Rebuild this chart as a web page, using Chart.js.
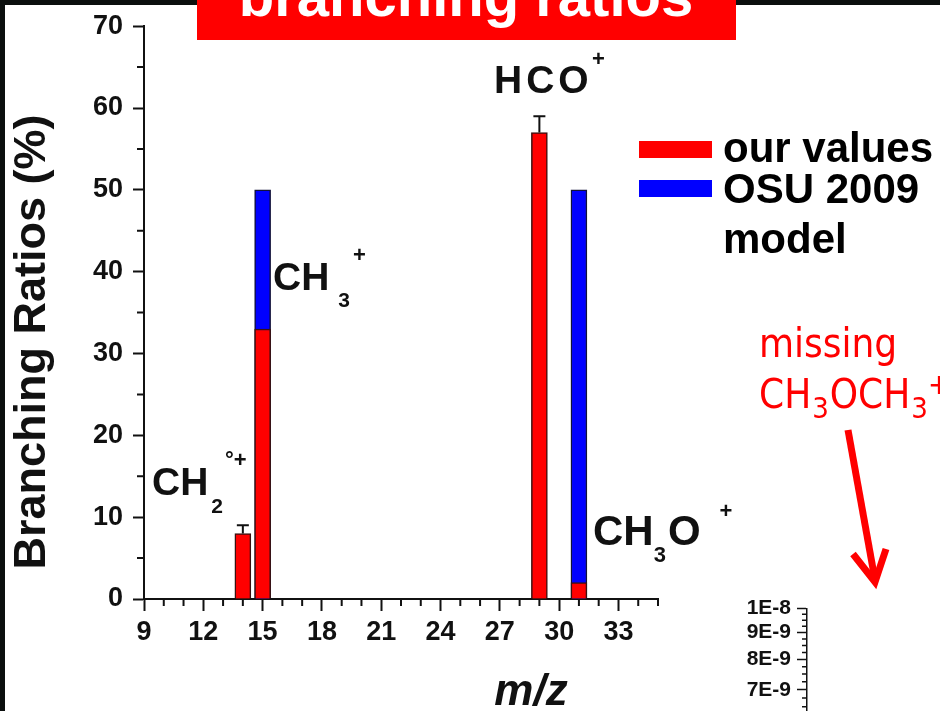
<!DOCTYPE html>
<html>
<head>
<meta charset="utf-8">
<title>branching ratios</title>
<script src="https://cdn.jsdelivr.net/npm/chart.js@4.4.1/dist/chart.umd.min.js"></script>
<style>
  html, body { margin: 0; padding: 0; background: #fff; overflow: hidden; }
  #wrap { position: relative; width: 940px; height: 711px; overflow: hidden; background: #fff; }
  #branching { position: absolute; left: 0; top: 0; }
  #rateAxis { position: absolute; left: 720px; top: 590px; }
</style>
</head>
<body>
<div id="wrap">
  <canvas id="branching" width="940" height="711"></canvas>
  <canvas id="rateAxis" width="220" height="195"></canvas>
</div>
<script>
// measured branching ratios (%) per m/z, with error bars
var ourMz = [14, 15, 29, 31];
var ourValues = [8, 33, 57, 2];
var ourErrors = [1, 0, 2, 0];

// OSU 2009 model branching ratios (%)
var osuMz = [15, 31];
var osuValues = [50, 50];

// axis ticks
var mzTicks = [9, 12, 15, 18, 21, 24, 27, 30, 33];
var ratioTicks = [0, 10, 20, 30, 40, 50, 60, 70];
var rateTicks = [1e-8, 9e-9, 8e-9, 7e-9, 6e-9, 5e-9];

var SANS = "'Liberation Sans', Arial, Helvetica, sans-serif";
var RED = "#ff0000";
var BLUE = "#0000ff";
var INK = "#111111";

// draws a chemical formula made of pieces [text, size, dx, dy]
function drawFormula(ctx, x, y, pieces, family, weight, color) {
  ctx.fillStyle = color;
  ctx.textAlign = "left";
  ctx.textBaseline = "alphabetic";
  pieces.forEach(function (p) {
    ctx.font = weight + " " + p[1] + "px " + family;
    ctx.fillText(p[0], x + (p[2] || 0), y + (p[3] || 0));
    x += ctx.measureText(p[0]).width + (p[2] || 0);
  });
}

// slide frame, title box, minor ticks, error bars, labels and legend
var slideDecor = {
  id: "slideDecor",
  beforeDraw: function (chart) {
    var ctx = chart.ctx;
    ctx.save();
    ctx.fillStyle = "#0b0f0e";
    ctx.fillRect(0, 0, 5, 711);
    ctx.fillRect(0, 0, 940, 5);
    ctx.fillStyle = RED;
    ctx.fillRect(197, 0, 539, 40);
    ctx.fillStyle = "#fff";
    ctx.font = "bold 58px " + SANS;
    ctx.textAlign = "center";
    ctx.textBaseline = "alphabetic";
    ctx.fillText("branching ratios", 466, 16);
    ctx.restore();
  },
  afterDatasetsDraw: function (chart) {
    var ctx = chart.ctx;
    var x = chart.scales.x;
    var y = chart.scales.y;
    ctx.save();
    ctx.strokeStyle = INK;
    ctx.lineWidth = 2;
    ourMz.forEach(function (m, i) {
      if (!ourErrors[i]) return;
      var px = x.getPixelForValue(m);
      var y0 = y.getPixelForValue(ourValues[i]);
      var y1 = y.getPixelForValue(ourValues[i] + ourErrors[i]);
      ctx.beginPath();
      ctx.moveTo(px, y0);
      ctx.lineTo(px, y1);
      ctx.moveTo(px - 6, y1);
      ctx.lineTo(px + 6, y1);
      ctx.stroke();
    });
    ctx.restore();
  },
  afterDraw: function (chart) {
    var ctx = chart.ctx;
    var x = chart.scales.x;
    var y = chart.scales.y;
    ctx.save();

    // minor ticks
    ctx.strokeStyle = INK;
    ctx.lineWidth = 2;
    ctx.beginPath();
    for (var v = x.min; v <= x.max; v++) {
      if (mzTicks.indexOf(v) >= 0) continue;
      var px = x.getPixelForValue(v);
      ctx.moveTo(px, y.bottom);
      ctx.lineTo(px, y.bottom + 7);
    }
    for (var w = 5; w < y.max; w += 10) {
      var py = y.getPixelForValue(w);
      ctx.moveTo(x.left - 7, py);
      ctx.lineTo(x.left, py);
    }
    ctx.stroke();

    // axis titles
    ctx.fillStyle = INK;
    ctx.textAlign = "center";
    ctx.textBaseline = "alphabetic";
    ctx.font = "italic bold 44px " + SANS;
    ctx.fillText("m/z", 531, 705);
    ctx.save();
    ctx.translate(45, 342);
    ctx.rotate(-Math.PI / 2);
    ctx.font = "bold 45px " + SANS;
    ctx.fillText("Branching Ratios (%)", 0, 0);
    ctx.restore();

    // ion labels
    drawFormula(ctx, 152, 495, [["CH", 39], ["2", 21, 3, 18], ["°+", 22, 2, -28]], SANS, "bold", INK);
    drawFormula(ctx, 273, 290, [["CH", 39], ["3", 21, 9, 17], ["+", 22, 3, -28]], SANS, "bold", INK);
    ctx.letterSpacing = "4px";
    drawFormula(ctx, 494, 93, [["HCO", 39]], SANS, "bold", INK);
    ctx.letterSpacing = "0px";
    drawFormula(ctx, 592, 66, [["+", 22]], SANS, "bold", INK);
    drawFormula(ctx, 593, 545, [["CH", 42], ["3", 22, 0, 17], ["O", 42, 2, 0], ["+", 22, 19, -27]], SANS, "bold", INK);

    // legend
    var items = [
      { color: RED, lines: ["our values"], top: 141, base: 162 },
      { color: BLUE, lines: ["OSU 2009", "model"], top: 180, base: 203 }
    ];
    items.forEach(function (it) {
      ctx.fillStyle = it.color;
      ctx.fillRect(639, it.top, 73, 17);
      ctx.fillStyle = "#000";
      ctx.font = "bold 42px " + SANS;
      ctx.textAlign = "left";
      it.lines.forEach(function (t, k) {
        ctx.fillText(t, 723, it.base + k * 50);
      });
    });

    // note with arrow
    var note = "'DejaVu Sans Condensed', 'DejaVu Sans', sans-serif";
    ctx.fillStyle = RED;
    ctx.font = "40px " + note;
    ctx.fillText("missing", 759, 357);
    drawFormula(ctx, 759, 408, [["CH", 40], ["3", 29, 1, 10], ["OCH", 40, 1, 0], ["3", 29, 1, 10], ["+", 29, 0, -14]], note, "normal", RED);
    ctx.strokeStyle = RED;
    ctx.lineWidth = 7;
    ctx.lineJoin = "miter";
    ctx.beginPath();
    ctx.moveTo(848, 430);
    ctx.lineTo(875, 580);
    ctx.stroke();
    ctx.beginPath();
    ctx.moveTo(853, 554);
    ctx.lineTo(875, 582);
    ctx.lineTo(886, 549);
    ctx.stroke();

    ctx.restore();
  }
};

var tickFont = { family: SANS, size: 27, weight: "bold" };

new Chart(document.getElementById("branching"), {
  type: "bar",
  data: {
    datasets: [
      {
        label: "our values",
        data: ourMz.map(function (m, i) { return { x: m, y: ourValues[i] }; }),
        backgroundColor: RED,
        borderColor: "#3a1010",
        borderWidth: 1.5,
        order: 1
      },
      {
        label: "OSU 2009 model",
        data: osuMz.map(function (m, i) { return { x: m, y: osuValues[i] }; }),
        backgroundColor: BLUE,
        borderColor: "#10103a",
        borderWidth: 1.5,
        order: 2
      }
    ]
  },
  options: {
    responsive: false,
    animation: false,
    grouped: false,
    barThickness: 16,
    layout: { padding: { top: 23, right: 282, bottom: 0, left: 0 } },
    plugins: {
      legend: { display: false },
      tooltip: { enabled: false }
    },
    scales: {
      x: {
        type: "linear",
        min: 9,
        max: 35,
        offset: false,
        afterBuildTicks: function (s) { s.ticks = mzTicks.map(function (v) { return { value: v }; }); },
        afterFit: function (s) { s.height = 112; },
        ticks: { font: tickFont, color: INK, padding: 5, maxRotation: 0, autoSkip: false },
        grid: { offset: false, drawOnChartArea: false, tickLength: 12, tickWidth: 2, tickColor: INK },
        border: { color: INK, width: 2 }
      },
      y: {
        min: 0,
        max: 70,
        afterBuildTicks: function (s) { s.ticks = ratioTicks.map(function (v) { return { value: v }; }); },
        afterFit: function (s) { s.width = 144; },
        ticks: { font: tickFont, color: INK, padding: 10 },
        grid: { drawOnChartArea: false, tickLength: 11, tickWidth: 2, tickColor: INK },
        border: { color: INK, width: 2 }
      }
    }
  },
  plugins: [slideDecor]
});

// minor ticks on the rate axis
var rateMinor = {
  id: "rateMinor",
  afterDraw: function (chart) {
    var ctx = chart.ctx;
    var y = chart.scales.y;
    ctx.save();
    ctx.strokeStyle = INK;
    ctx.lineWidth = 1.5;
    ctx.beginPath();
    for (var k = 1; k < 20; k++) {
      if (k % 4 === 0) continue;
      var py = y.getPixelForValue(1e-8 - k * 0.25e-9);
      ctx.moveTo(y.right - 5, py);
      ctx.lineTo(y.right, py);
    }
    ctx.stroke();
    ctx.restore();
  }
};

new Chart(document.getElementById("rateAxis"), {
  type: "line",
  data: { datasets: [{ data: [] }] },
  options: {
    responsive: false,
    animation: false,
    layout: { padding: { top: 18, right: 0, bottom: 0, left: 0 } },
    plugins: { legend: { display: false }, tooltip: { enabled: false } },
    scales: {
      x: { display: false },
      y: {
        type: "logarithmic",
        min: 5e-9,
        max: 1e-8,
        afterBuildTicks: function (s) { s.ticks = rateTicks.map(function (v) { return { value: v }; }); },
        afterFit: function (s) { s.width = 87; },
        ticks: {
          font: { family: SANS, size: 21, weight: "bold" },
          color: INK,
          padding: 6,
          callback: function (v) {
            var e = Math.floor(Math.log10(v) + 1e-9);
            return Math.round(v / Math.pow(10, e)) + "E" + e;
          }
        },
        grid: { drawOnChartArea: false, tickLength: 10, tickWidth: 1.5, tickColor: INK },
        border: { color: INK, width: 1.5 }
      }
    }
  },
  plugins: [rateMinor]
});
</script>
</body>
</html>
